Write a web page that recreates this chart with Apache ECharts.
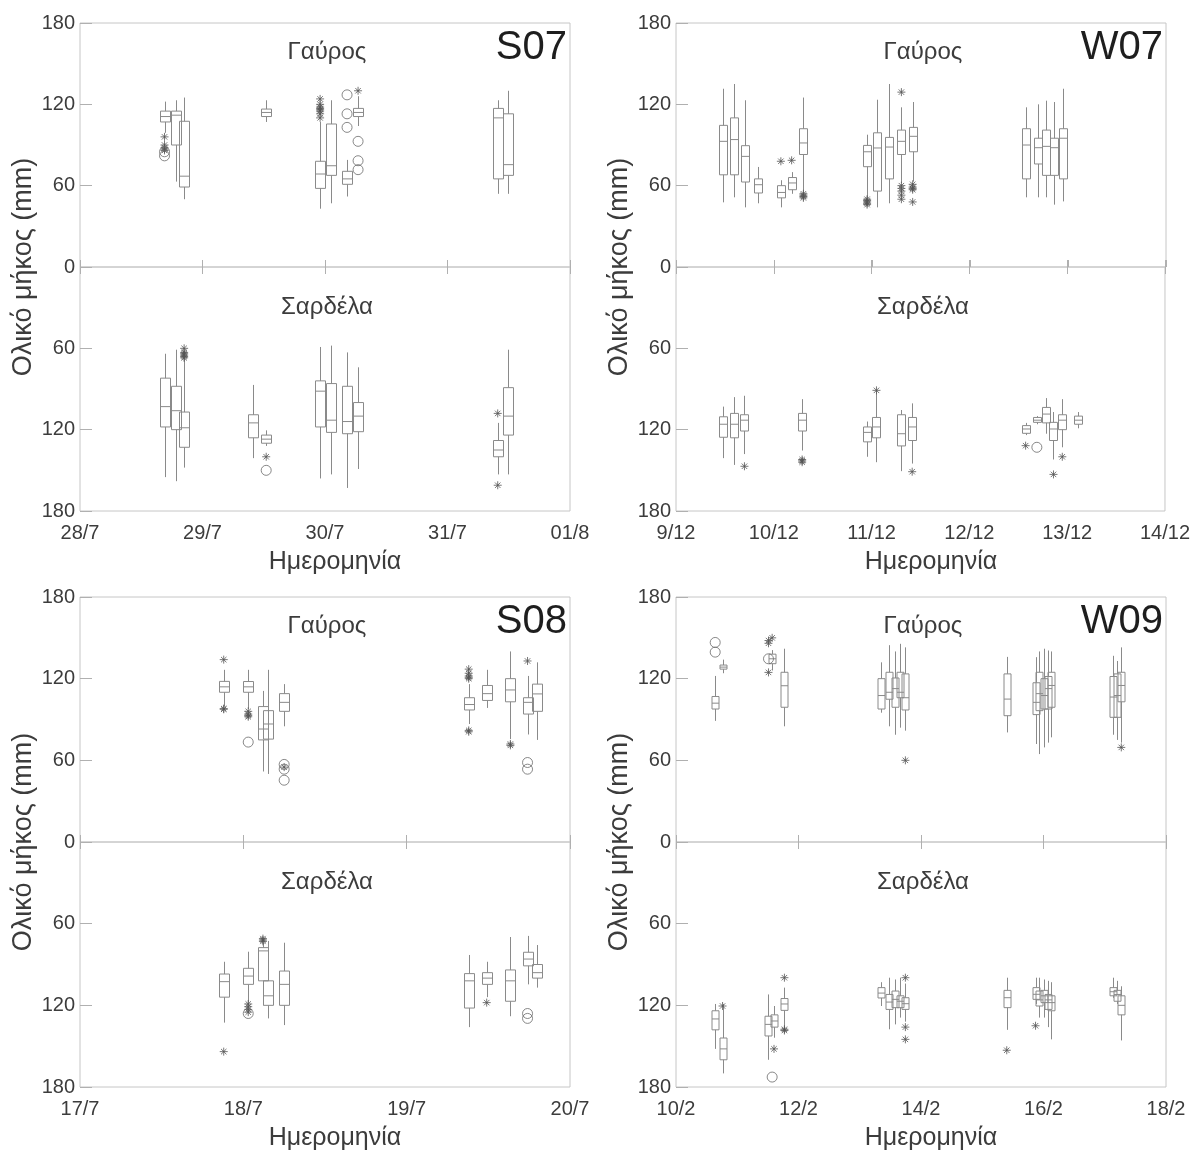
<!DOCTYPE html>
<html><head><meta charset="utf-8">
<script src="https://cdn.jsdelivr.net/npm/echarts/dist/echarts.min.js"></script>
<style>html,body{margin:0;padding:0;background:#fff}#c{width:1193px;height:1151px}</style>
</head><body><div id="c"></div>
<script>
// ---------- S07 (x = days after 28/7) ----------
const s07_ticks = ['28/7','29/7','30/7','31/7','01/8'];
// [x, min, Q1, median, Q3, max]
const s07_gavros_boxes = [
  [0.69, 99, 107, 111, 115, 122],
  [0.78, 63, 90, 112, 115, 123],
  [0.85, 50, 59, 67, 107.5, 125],
  [1.52, 107, 111, 114, 116.5, 123],
  [1.96, 43, 58, 68.6, 78, 107],
  [2.05, 47, 67.6, 74.7, 105.5, 123],
  [2.18, 52, 61, 65, 70.6, 79],
  [2.27, 104, 111, 114, 117, 126],
  [3.41, 54, 65, 110, 117, 123],
  [3.49, 54, 67.6, 75.5, 113, 130]
];
const s07_gavros_stars = [[0.69,96],[0.69,90],[0.69,88],[0.69,87],[0.69,86],
  [1.96,110],[1.96,113],[1.96,115],[1.96,116],[1.96,117],[1.96,118],[1.96,120],[1.96,124],[2.27,130]];
const s07_gavros_circles = [[0.69,85],[0.69,82],[2.18,127],[2.18,113],[2.18,103],[2.27,92.7],[2.27,78.4],[2.27,71.8]];
const s07_sardela_boxes = [
  [0.69, 64, 82, 103, 118, 155],
  [0.78, 61, 88, 106, 120, 158],
  [0.85, 68, 107, 118.6, 133, 148],
  [1.41, 87, 109, 115, 126, 141],
  [1.52, 120.5, 124, 127, 130, 132],
  [1.96, 59, 84, 91.6, 118, 156],
  [2.05, 58, 86, 113, 122, 153],
  [2.18, 63, 88, 114, 123, 163],
  [2.27, 74, 100, 110, 121.5, 149],
  [3.41, 115, 128, 135, 140, 153],
  [3.49, 61, 89, 110, 124, 153]
];
const s07_sardela_stars = [[0.85,60],[0.85,63],[0.85,64],[0.85,65],[0.85,66],[0.85,67],[1.52,140],[3.41,108],[3.41,161]];
const s07_sardela_circles = [[1.52,150]];

// ---------- W07 (x = days after 9/12) ----------
const w07_ticks = ['9/12','10/12','11/12','12/12','13/12','14/12'];
const w07_gavros_boxes = [
  [0.48, 47.7, 68, 92.7, 104.5, 131.5],
  [0.59, 51.4, 68, 94, 110, 135],
  [0.70, 44, 62.7, 81.6, 89.5, 123],
  [0.835, 47, 54.6, 60.7, 65, 73.8],
  [1.07, 44, 51, 55, 60, 64],
  [1.18, 54, 57, 62, 66, 70],
  [1.30, 56, 83, 91.5, 102, 125],
  [1.95, 51, 74, 85, 89.7, 97.6],
  [2.05, 44, 56, 87.8, 99, 123.4],
  [2.17, 47, 65, 88.5, 95.6, 135],
  [2.30, 62, 83, 92.7, 101, 117.8],
  [2.415, 63, 85, 96.4, 103, 121.7],
  [3.575, 51.4, 65, 90, 102, 117.8],
  [3.69, 51.4, 76, 88, 95, 120],
  [3.78, 51.4, 67.6, 89, 101, 122.7],
  [3.86, 46, 67.6, 88, 95, 121.7],
  [3.95, 48.4, 65, 95, 102, 131.5]
];
const w07_gavros_stars = [[1.07,78],[1.18,78.7],[1.30,54],[1.30,53],[1.30,52],[1.30,51],
  [1.95,46],[1.95,47],[1.95,48],[1.95,49],[1.95,50],
  [2.30,129],[2.30,60],[2.30,58],[2.30,56],[2.30,53],[2.30,50],
  [2.415,61],[2.415,59],[2.415,58],[2.415,57],[2.415,48]];
const w07_gavros_circles = [];
const w07_sardela_boxes = [
  [0.48, 103, 110.5, 116, 125.6, 141],
  [0.59, 96, 108, 116, 126, 146],
  [0.70, 95, 109, 113, 121, 138],
  [1.29, 97.5, 108, 113, 121, 135.4],
  [1.95, 114, 118, 122, 129, 140],
  [2.05, 91, 111, 118, 126, 144],
  [2.30, 105.5, 109, 123, 132, 150.6],
  [2.415, 100.6, 111, 118, 128, 145],
  [3.575, 115, 117, 119.5, 122.7, 124],
  [3.69, 110, 111, 113, 114.6, 116],
  [3.78, 96.7, 103.6, 108.5, 115, 123],
  [3.86, 107, 114.6, 119.5, 128, 142],
  [3.95, 97.5, 109, 113, 120, 133],
  [4.11, 107, 110, 113, 116, 119]
];
const w07_sardela_stars = [[0.70,147],[1.29,142],[1.29,143],[1.29,144],[2.05,91],[2.415,151],[3.575,131.8],[3.86,153],[3.95,140]];
const w07_sardela_circles = [[3.69,133]];

// ---------- S08 (x = days after 17/7) ----------
const s08_ticks = ['17/7','18/7','19/7','20/7'];
const s08_gavros_boxes = [
  [0.88, 99.5, 110, 114, 118, 126.5],
  [1.03, 97.7, 110, 114, 117.9, 126.5],
  [1.12, 51.8, 75, 83, 99.5, 111],
  [1.15, 50, 75.6, 86.7, 96.5, 126.5],
  [1.25, 85, 96, 102.6, 109, 116],
  [2.38, 86.7, 97, 101, 106, 116],
  [2.49, 98.5, 104, 109, 115, 126.5],
  [2.635, 75.6, 103, 111.7, 120, 140],
  [2.74, 79, 94, 102.6, 106, 122],
  [2.80, 75, 96, 108.8, 116, 132]
];
const s08_gavros_stars = [[0.88,134],[0.88,98],[0.88,97.5],[1.03,96],[1.03,94],[1.03,93],[1.03,92],[1.25,55],
  [2.38,127],[2.38,124],[2.38,122],[2.38,121],[2.38,120],[2.38,82],[2.38,81],[2.635,72],[2.635,71],[2.74,133]];
const s08_gavros_circles = [[1.03,73.4],[1.25,57],[1.25,53.5],[1.25,45.4],[2.74,58.4],[2.74,53.5]];
const s08_sardela_boxes = [
  [0.88, 88, 97, 102.6, 114, 132.7],
  [1.03, 80.6, 92.8, 98.5, 104.6, 118],
  [1.12, 74, 77.6, 80, 102, 120],
  [1.15, 72.7, 102, 113, 120, 129.6],
  [1.25, 74, 94.8, 104.6, 120, 134.5],
  [2.38, 83, 96.7, 102, 122, 136],
  [2.49, 88, 96, 100, 104.6, 114],
  [2.635, 69.8, 94, 102, 117, 128],
  [2.74, 69, 81, 86, 91, 104.6],
  [2.80, 75.7, 90, 96, 100, 107]
];
const s08_sardela_stars = [[0.88,154],[1.03,119],[1.03,121],[1.03,123],[1.03,125],[1.12,71],[1.12,72],[1.12,73],[2.49,118]];
const s08_sardela_circles = [[1.03,126],[2.74,126],[2.74,129.6]];

// ---------- W09 (x = days after 10/2) ----------
const w09_ticks = ['10/2','12/2','14/2','16/2','18/2'];
const w09_gavros_boxes = [
  [0.64, 89, 97.7, 102, 106.9, 122],
  [0.76, 124, 127, 128.5, 130, 134],
  [1.57, 126, 131, 134.6, 138, 141],
  [1.77, 85, 99, 114.8, 124.7, 142],
  [3.35, 95, 97.7, 107.6, 120, 132],
  [3.48, 85, 104.9, 110, 124.7, 144.6],
  [3.57, 78.8, 99, 112.7, 120.5, 140],
  [3.665, 84, 106, 110, 124.7, 145.6],
  [3.745, 81.8, 97, 106, 123.5, 143],
  [5.40, 80.5, 92.8, 105, 123.5, 136],
  [5.87, 72, 93.6, 102.6, 117, 135.8],
  [5.93, 64.6, 96.5, 109, 124.7, 140],
  [6.01, 69.5, 97.7, 107.6, 120, 142],
  [6.07, 73, 97.7, 112.7, 121.6, 140.7],
  [6.12, 76.9, 99, 115, 124.7, 140],
  [7.14, 78.8, 91.6, 106.5, 121.6, 136.8],
  [7.205, 75, 91.6, 107.6, 123.5, 133],
  [7.27, 73, 103, 115, 124.7, 143]
];
const w09_gavros_stars = [[1.51,124.6],[1.51,146],[1.51,148],[1.57,150],[3.745,60],[7.27,69.5]];
const w09_gavros_circles = [[0.64,146.6],[0.64,139.5],[1.51,134.6]];
const w09_sardela_boxes = [
  [0.64, 119, 124, 130, 138, 152],
  [0.76, 119, 144, 152, 160, 170],
  [1.50, 112, 128, 134, 142.5, 160],
  [1.60, 120.5, 127, 131.5, 136, 143.8],
  [1.77, 107, 115, 119, 123.7, 137.6],
  [3.34, 103, 107, 111, 114.6, 120.5],
  [3.47, 99.7, 112, 117.6, 123, 137.6],
  [3.57, 101, 109.5, 115.6, 121.7, 134],
  [3.665, 99.7, 113, 117, 121.7, 129],
  [3.745, 104, 114.4, 118.8, 123, 132],
  [5.40, 99.7, 109, 114.4, 121.7, 138],
  [5.87, 99.7, 107, 111.9, 115.6, 119],
  [5.93, 99.7, 109.5, 116, 120.5, 129],
  [6.01, 101, 109, 113, 118, 129],
  [6.07, 102, 112, 116, 123, 136],
  [6.12, 103, 113, 118, 124, 145],
  [7.14, 99.7, 107, 110, 113, 114.5],
  [7.205, 102, 109, 112, 117, 119],
  [7.27, 106, 113, 120, 127, 145.8]
];
const w09_sardela_stars = [[0.76,120.5],[1.60,152],[1.77,99.7],[1.77,137.6],[1.77,138.5],[3.745,99.7],[3.745,136],[3.745,145],[5.40,153],[5.87,135]];
const w09_sardela_circles = [[1.57,172.7]];

const yTicksMax = 180, yInterval = 60;
const topTitle = 'Γαύρος', bottomTitle = 'Σαρδέλα';
const xTitle = 'Ημερομηνία', yTitle = 'Ολικό μήκος (mm)';

// ---------- layout ----------
const W = 490;
const panels = [
  {left:80,  top:23,  h:244, ticks:s07_ticks, xmax:4, xint:1, name:'S07', bw:10,
   gb:s07_gavros_boxes, gs:s07_gavros_stars, gc:s07_gavros_circles, sb:s07_sardela_boxes, ss:s07_sardela_stars, sc:s07_sardela_circles},
  {left:676, top:23,  h:244, ticks:w07_ticks, xmax:5, xint:1, name:'W07', bw:8,
   gb:w07_gavros_boxes, gs:w07_gavros_stars, gc:w07_gavros_circles, sb:w07_sardela_boxes, ss:w07_sardela_stars, sc:w07_sardela_circles},
  {left:80,  top:597, h:245, ticks:s08_ticks, xmax:3, xint:1, name:'S08', bw:10,
   gb:s08_gavros_boxes, gs:s08_gavros_stars, gc:s08_gavros_circles, sb:s08_sardela_boxes, ss:s08_sardela_stars, sc:s08_sardela_circles},
  {left:676, top:597, h:245, ticks:w09_ticks, xmax:8, xint:2, name:'W09', bw:7,
   gb:w09_gavros_boxes, gs:w09_gavros_stars, gc:w09_gavros_circles, sb:w09_sardela_boxes, ss:w09_sardela_stars, sc:w09_sardela_circles}
];

const FONT = 'Liberation Sans, Arial, sans-serif';
const BOXC = '#8a8a8a', OUTC = '#555', FRAME = '#c6c6c6', TXT = '#3c3c3c';
const STAR = 'path://M5 0 L5 10 M0 5 L10 5 M1.6 1.6 L8.4 8.4 M1.6 8.4 L8.4 1.6';

function boxRenderer(w){
  return function(params, api){
    const x = api.value(0);
    const p = [1,2,3,4,5].map(i => api.coord([x, api.value(i)]));
    const cx = Math.round(p[0][0]) + 0.5;
    const st = {stroke:BOXC, lineWidth:1, fill:null};
    const y1 = Math.min(p[1][1], p[3][1]), hh = Math.abs(p[3][1] - p[1][1]);
    return {type:'group', children:[
      {type:'line', shape:{x1:cx, y1:p[0][1], x2:cx, y2:p[1][1]}, style:st},
      {type:'line', shape:{x1:cx, y1:p[3][1], x2:cx, y2:p[4][1]}, style:st},
      {type:'rect', shape:{x:cx - w/2, y:y1, width:w, height:hh}, style:{stroke:BOXC, lineWidth:1, fill:'rgba(0,0,0,0)'}},
      {type:'line', shape:{x1:cx - w/2, y1:p[2][1], x2:cx + w/2, y2:p[2][1]}, style:st}
    ]};
  };
}

const grid = [], xAxis = [], yAxis = [], series = [], graphic = [];
panels.forEach((P, k) => {
  const gTop = grid.length, gBot = gTop + 1;
  grid.push({left:P.left, top:P.top, width:W, height:P.h, show:true, borderColor:FRAME, borderWidth:1});
  grid.push({left:P.left, top:P.top + P.h, width:W, height:P.h, show:true, borderColor:FRAME, borderWidth:1});
  const fmt = v => P.ticks[Math.round(v / P.xint)] || '';
  const xBase = {type:'value', min:0, max:P.xmax, interval:P.xint, splitLine:{show:false},
    axisLine:{show:false}, axisTick:{show:true, inside:true, length:7, lineStyle:{color:'#b0b0b0'}}};
  const xTopIdx = xAxis.length;
  xAxis.push(Object.assign({}, xBase, {gridIndex:gTop, position:'bottom', axisLabel:{show:false}}));
  const xBotIdx = xAxis.length;
  xAxis.push(Object.assign({}, xBase, {gridIndex:gBot, position:'bottom',
    axisLabel:{show:true, formatter:fmt, fontSize:20, color:TXT, fontFamily:FONT, margin:12}}));
  xAxis.push(Object.assign({}, xBase, {gridIndex:gBot, position:'top', axisLabel:{show:false}}));
  const yBase = {type:'value', min:0, max:yTicksMax, interval:yInterval, splitLine:{show:false},
    axisLine:{show:false}, axisTick:{show:true, inside:true, length:12, lineStyle:{color:'#b0b0b0'}}};
  const yTopIdx = yAxis.length;
  yAxis.push(Object.assign({}, yBase, {gridIndex:gTop,
    axisLabel:{fontSize:20, color:TXT, fontFamily:FONT, margin:5}}));
  const yBotIdx = yAxis.length;
  yAxis.push(Object.assign({}, yBase, {gridIndex:gBot, inverse:true,
    axisLabel:{fontSize:20, color:TXT, fontFamily:FONT, margin:5, formatter: v => v === 0 ? '' : String(v)}}));

  const addSet = (boxes, stars, circles, xi, yi) => {
    series.push({type:'custom', xAxisIndex:xi, yAxisIndex:yi, renderItem:boxRenderer(P.bw),
      data:boxes, encode:{x:0, y:[1,2,3,4,5]}, silent:true, clip:true});
    series.push({type:'scatter', xAxisIndex:xi, yAxisIndex:yi, data:stars, symbol:STAR, symbolSize:8,
      itemStyle:{color:'rgba(0,0,0,0)', borderColor:OUTC, borderWidth:1}, silent:true});
    series.push({type:'scatter', xAxisIndex:xi, yAxisIndex:yi, data:circles, symbol:'circle', symbolSize:10,
      itemStyle:{color:'rgba(0,0,0,0)', borderColor:'#6a6a6a', borderWidth:1}, silent:true});
  };
  addSet(P.gb, P.gs, P.gc, xTopIdx, yTopIdx);
  addSet(P.sb, P.ss, P.sc, xBotIdx, yBotIdx);

  const cx = P.left + W/2;
  graphic.push({type:'text', x:cx + 2, y:P.top + 29, style:{text:topTitle, font:'24px ' + FONT, fill:TXT, textAlign:'center', textVerticalAlign:'middle'}});
  graphic.push({type:'text', x:cx + 2, y:P.top + P.h + 40, style:{text:bottomTitle, font:'24px ' + FONT, fill:TXT, textAlign:'center', textVerticalAlign:'middle'}});
  graphic.push({type:'text', x:P.left + W - 3, y:P.top + 25, style:{text:P.name, font:'40px ' + FONT, fill:'#1e1e1e', textAlign:'right', textVerticalAlign:'middle'}});
  graphic.push({type:'text', x:cx + 10, y:P.top + 2*P.h + 51, style:{text:xTitle, font:'25px ' + FONT, fill:TXT, textAlign:'center', textVerticalAlign:'middle'}});
  graphic.push({type:'text', x:P.left - 56, y:P.top + P.h, rotation:Math.PI/2, style:{text:yTitle, font:'27px ' + FONT, fill:TXT, textAlign:'center', textVerticalAlign:'middle'}});
});

const chart = echarts.init(document.getElementById('c'), null, {renderer:'canvas'});
chart.setOption({animation:false, backgroundColor:'#fff', grid, xAxis, yAxis, series, graphic});
</script>
</body></html>
